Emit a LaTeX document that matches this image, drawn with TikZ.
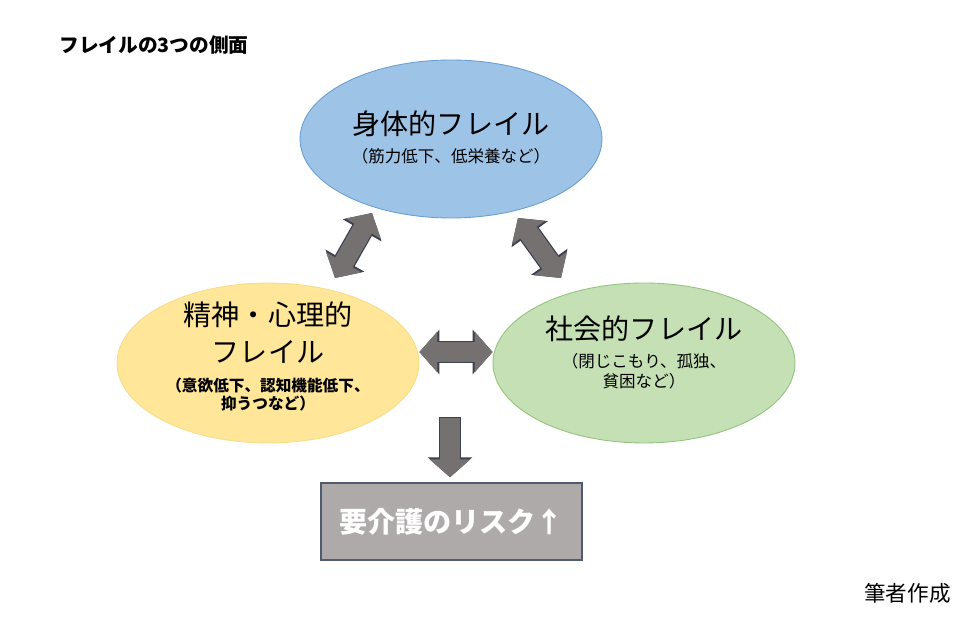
\documentclass[tikz,border=0pt]{standalone}
\usepackage{fontspec}
\setmainfont{Noto Sans CJK JP}
\usetikzlibrary{shapes.geometric,arrows.meta}

\definecolor{bodyblue}{HTML}{9DC3E6}
\definecolor{bodyline}{HTML}{6A9FD3}
\definecolor{mindyellow}{HTML}{FFE699}
\definecolor{mindline}{HTML}{F7DC8A}
\definecolor{socialgreen}{HTML}{C5E0B4}
\definecolor{socialline}{HTML}{93C47D}
\definecolor{riskgray}{HTML}{AEAAAA}
\definecolor{riskline}{HTML}{4F5B6E}
\definecolor{arrgray}{HTML}{757171}
\definecolor{arrline}{HTML}{3C4150}

\newcommand\headtxt{\fontsize{16pt}{18pt}\selectfont}
\newcommand\subtxt{\fontsize{9.4pt}{11pt}\selectfont}
\newcommand\smalltxt{\fontsize{8.9pt}{11pt}\selectfont}

\tikzset{
  frail/.style={ellipse, minimum width=6.04cm, minimum height=3.2cm, inner sep=0pt, line width=0.5pt},
  frailtxt/.style={align=center, inner sep=0pt, font=\subtxt},
  dblarrow/.style={line width=0.4cm, draw=arrgray,
    arrows={Triangle[length=0.36cm,width=0.8cm]-Triangle[length=0.36cm,width=0.8cm]},
    preaction={draw=arrline, line width=0.45cm,
      arrows={Triangle[length=0.4cm,width=0.87cm]-Triangle[length=0.4cm,width=0.87cm]}}},
  sglarrow/.style={line width=0.4cm, draw=arrgray, shorten <=0.025cm,
    arrows={-Triangle[length=0.36cm,width=0.8cm]},
    preaction={draw=arrline, line width=0.45cm, shorten <=0pt,
      arrows={-Triangle[length=0.4cm,width=0.87cm]}}}
}

\begin{document}
\begin{tikzpicture}[x=0.02cm,y=-0.02cm]
\useasboundingbox (0,0) rectangle (971,617);

\node [anchor=west,inner sep=0pt,font=\bfseries\fontsize{11.2pt}{13pt}\selectfont] (title) at (59,45) {フレイルの3つの側面};

\node [frail,fill=bodyblue,draw=bodyline,minimum height=3.16cm] (body) at (451,139) {};
\node [frailtxt] (bodytxt) at (451,137) {{\headtxt 身体的フレイル}\\[5pt] （筋力低下、低栄養など）};

\node [frail,fill=mindyellow,draw=mindline] (mind) at (268,363) {};
\node [frailtxt,font=\bfseries\smalltxt] (mindtxt) at (268,356) {{\headtxt\mdseries 精神・心理的}\\[6.5pt] {\headtxt\mdseries フレイル}\\[5.5pt] （意欲低下、認知機能低下、\\[-1pt] 抑うつなど）};

\node [frail,fill=socialgreen,draw=socialline] (social) at (644,363) {};
\node [frailtxt] (socialtxt) at (644,352) {{\headtxt 社会的フレイル}\\[5pt] （閉じこもり、孤独、\\[0.3pt] 貧困など）};

\node [draw=riskline,fill=riskgray,line width=0.8pt,minimum width=5.22cm,minimum height=1.54cm,inner sep=0pt,
  text=white,font=\bfseries\headtxt] (risk) at (451.5,521.5) {要介護のリスク↑};

\node [anchor=east,inner sep=0pt,font=\fontsize{12.3pt}{14pt}\selectfont] (note) at (951,593) {筆者作成};

\coordinate (bodyleft) at (372,213);
\coordinate (mindtop) at (335,278);
\coordinate (bodyright) at (518,218);
\coordinate (socialtop) at (561,278);
\coordinate (drop) at (450,417);

\draw [dblarrow] (bodyleft) -- (mindtop);
\draw [dblarrow] (bodyright) -- (socialtop);
\draw [dblarrow] ([yshift=0.22cm]mind.east) -- ([yshift=0.22cm]social.west);
\draw [sglarrow] (drop) -- ([yshift=0.1cm]drop |- risk.north);
\end{tikzpicture}
\end{document}
